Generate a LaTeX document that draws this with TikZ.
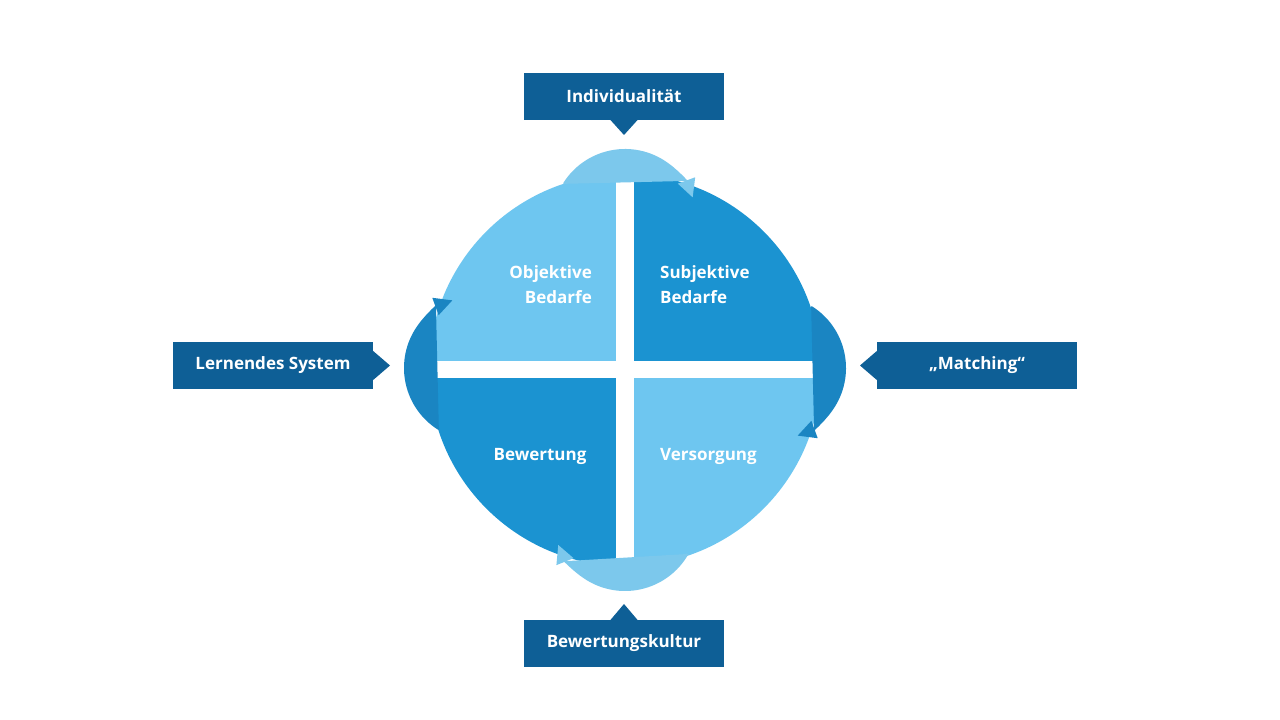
\documentclass[tikz,border=0pt]{standalone}
\usepackage{fontspec}
\setmainfont{Open Sans}
\usetikzlibrary{arrows.meta,calc}
\definecolor{lb}{HTML}{6EC6F0}
\definecolor{db}{HTML}{1B93D1}
\definecolor{bx}{HTML}{0E5F96}
\definecolor{la}{HTML}{7CC8EC}
\definecolor{da}{HTML}{1A85C2}
\begin{document}
\begin{tikzpicture}[x=1pt,y=1pt,
  box/.style={fill=bx,text=white,minimum width=200pt,minimum height=47pt,inner sep=0pt,font=\fontsize{17}{20}\selectfont\bfseries},
  qt/.style={text=white,font=\fontsize{17}{25}\selectfont\bfseries,inner sep=0pt},
  cyc/.style={line width=2pt,-{Triangle[length=18pt,width=18pt]}}]
\useasboundingbox (0,0) rectangle (1280,720);
\fill[white] (0,0) rectangle (1280,720);
% quadrants
\begin{scope}
\clip (625,350) circle (196);
\fill[lb] (400,359) rectangle (616,600);
\fill[db] (634,359) rectangle (850,600);
\fill[db] (400,342) rectangle (616,100);
\fill[lb] (634,342) rectangle (850,100);
\end{scope}
\node[qt,align=right,anchor=east] (ob) at (592,435) {Objektive\\Bedarfe};
\node[qt,align=left,anchor=west] (sb) at (660,435) {Subjektive\\Bedarfe};
\node[qt] (bw) at (540,264) {Bewertung};
\node[qt,anchor=west] (vs) at (660,264) {Versorgung};
% boxes
\node[box] (ind) at (624,623.5) {Individualität};
\fill[bx] (610,600.5) -- (638,600.5) -- (624,585) -- cycle;
\node[box] (bk) at (624,76.5) {Bewertungskultur};
\fill[bx] (610,99.5) -- (638,99.5) -- (624,116) -- cycle;
\node[box] (ls) at (273,354.5) {Lernendes System};
\fill[bx] (372,370) -- (372,339) -- (390,354.5) -- cycle;
\node[box] (mt) at (977,354.5) {„Matching“};
\fill[bx] (878,370) -- (878,339) -- (860,354.5) -- cycle;
% cycle arrows
\coordinate (ct) at (625,498);
\coordinate (cb) at (625,202);
\coordinate (cl) at (477,352);
\coordinate (cr) at (773,352);
\draw[cyc,draw=la,fill=la] ($(ct)+(148:72)$) arc[start angle=148,end angle=20,radius=72];
\draw[cyc,draw=la,fill=la] ($(cb)+(-30:72)$) arc[start angle=-30,end angle=-158,radius=72];
\draw[cyc,draw=da,fill=da] ($(cl)+(238:72)$) arc[start angle=238,end angle=110,radius=72];
\draw[cyc,draw=da,fill=da] ($(cr)+(58:72)$) arc[start angle=58,end angle=-70,radius=72];
\end{tikzpicture}
\end{document}
